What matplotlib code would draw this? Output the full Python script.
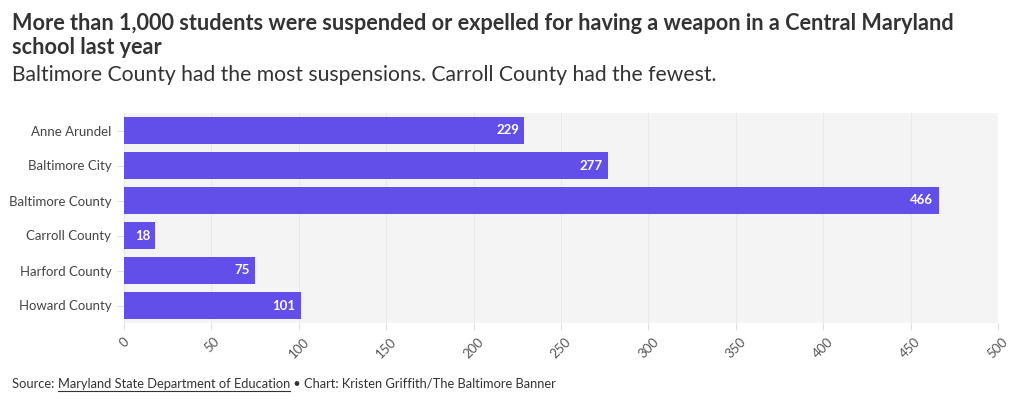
import matplotlib.pyplot as plt
from matplotlib.lines import Line2D

plt.rcParams['font.family'] = ['Lato', 'DejaVu Sans']

counties = ["Anne Arundel", "Baltimore City", "Baltimore County",
            "Carroll County", "Harford County", "Howard County"]
counts = [229, 277, 466, 18, 75, 101]
xticks = [0, 50, 100, 150, 200, 250, 300, 350, 400, 450, 500]

bar_color = "#624ee8"

fig = plt.figure(figsize=(10.2, 4.04), dpi=100)
ax = fig.add_axes([124 / 1020, 1 - 323 / 404, (998 - 124) / 1020, 210 / 404])
ax.set_facecolor("#f4f4f4")

ypos = list(range(len(counties)))
ax.barh(ypos, counts, height=0.77, color=bar_color, zorder=3)
for y, v in zip(ypos, counts):
    ax.text(v - 3, y, str(v), ha="right", va="center", color="white",
            fontsize=9.5, fontweight="bold", zorder=4)

ax.set_ylim(len(counties) - 0.5, -0.5)
ax.set_xlim(0, 500)
ax.set_yticks(ypos)
ax.set_yticklabels(counties, fontsize=9.5, color="#444444")
ax.set_xticks(xticks)
ax.set_xticklabels([str(t) for t in xticks], rotation=45, fontsize=9.5,
                   color="#555555", ha="center", va="top")
ax.tick_params(axis="y", length=5, color="#dddddd", pad=4)
ax.tick_params(axis="x", length=5, color="#dddddd", pad=4)
ax.grid(axis="x", color="#e8e8e8", linewidth=0.7, zorder=0)
for s in ax.spines.values():
    s.set_visible(False)

fig.text(12 / 1020, 1 - 13 / 404, "More than 1,000 students were suspended or expelled for having a weapon in a Central Maryland\nschool last year",
         fontsize=15.6, fontweight="bold", color="#333333", va="top", ha="left", linespacing=1.2)
fig.text(12 / 1020, 1 - 65 / 404, "Baltimore County had the most suspensions. Carroll County had the fewest.",
         fontsize=15.2, color="#333333", va="top", ha="left")

# source line with underlined link
fig.canvas.draw()
r = fig.canvas.get_renderer()
x0 = 12 / 1020
ysrc = 1 - 388 / 404
fs = 9.3
t1 = fig.text(x0, ysrc, "Source: ", fontsize=fs, color="#333333", va="baseline")
w1 = t1.get_window_extent(r)
t2 = fig.text(w1.x1 / 1020, ysrc, "Maryland State Department of Education", fontsize=fs,
              color="#333333", va="baseline")
w2 = t2.get_window_extent(r)
fig.add_artist(Line2D([w2.x0 / 1020, w2.x1 / 1020], [ysrc - 3 / 404, ysrc - 3 / 404],
                      color="#333333", linewidth=0.8, transform=fig.transFigure))
fig.text(w2.x1 / 1020, ysrc, " \u2022 Chart: Kristen Griffith/The Baltimore Banner",
         fontsize=fs, color="#333333", va="baseline")

fig.savefig("out.png", dpi=100)
